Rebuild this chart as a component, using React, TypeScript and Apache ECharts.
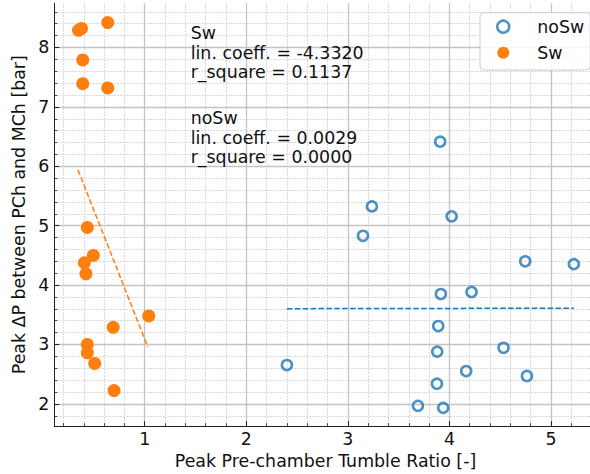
import React, { useEffect, useRef } from "react";
import * as echarts from "echarts";

const noSwX = [3.909, 3.237, 4.022, 3.149, 4.746, 5.225, 3.916, 4.218, 3.89, 3.88, 4.533, 2.4, 4.165, 4.763, 3.877, 3.69, 3.939];
const noSwY = [6.415, 5.325, 5.157, 4.83, 4.4, 4.353, 3.85, 3.884, 3.31, 2.88, 2.945, 2.654, 2.553, 2.47, 2.34, 1.967, 1.933];
const swX = [0.348, 0.378, 0.636, 0.39, 0.39, 0.636, 0.435, 0.494, 0.406, 0.422, 1.04, 0.69, 0.435, 0.435, 0.508, 0.698];
const swY = [8.29, 8.32, 8.42, 7.79, 7.39, 7.32, 4.97, 4.5, 4.375, 4.19, 3.48, 3.29, 3.0, 2.86, 2.68, 2.225];
const swFitX = [0.343, 1.03];
const swFitY = [5.94, 2.96];
const noSwFitX = [2.4, 5.225];
const noSwFitY = [3.603, 3.611];

const xMajor = [1, 2, 3, 4, 5];
const yMajor = [2, 3, 4, 5, 6, 7, 8];
const xMinor = [0.2, 0.4, 0.6, 0.8, 1.2, 1.4, 1.6, 1.8, 2.2, 2.4, 2.6, 2.8, 3.2, 3.4, 3.6, 3.8, 4.2, 4.4, 4.6, 4.8, 5.2, 5.4];
const yMinor = [1.8, 2.2, 2.4, 2.6, 2.8, 3.2, 3.4, 3.6, 3.8, 4.2, 4.4, 4.6, 4.8, 5.2, 5.4, 5.6, 5.8, 6.2, 6.4, 6.6, 6.8, 7.2, 7.4, 7.6, 7.8, 8.2, 8.4, 8.6];

const textSw = ["Sw", "lin. coeff. = -4.3320", "r_square = 0.1137"];
const textNoSw = ["noSw", "lin. coeff. = 0.0029", "r_square = 0.0000"];

const X_MIN = 0.11;
const X_MAX = 5.45;
const Y_MIN = 1.626;
const Y_MAX = 8.744;

const FONT = "DejaVu Sans";
const FS = 17.4;
const BLUE = "#1f77b4";
const ORANGE = "#ff7f0e";

const zip = (xs: number[], ys: number[]) => xs.map((x, i) => [x, ys[i]]);

export default function App() {
  const ref = useRef<HTMLDivElement>(null);
  useEffect(() => {
    if (!ref.current) return;
    const chart = echarts.init(ref.current, undefined, { renderer: "svg" });
    const majorAxisBase = {
      type: "value",
      axisLine: { show: true, lineStyle: { color: "#222", width: 1 } },
      axisTick: { show: true, inside: true, length: 5, lineStyle: { color: "#222", width: 1 } },
      axisLabel: { show: true, color: "#111", fontFamily: FONT, fontSize: FS },
      splitLine: { show: true, lineStyle: { color: "#c4c4c4", width: 1.3, type: "solid" } },
    };
    const minorAxisBase = {
      type: "value",
      axisLine: { show: false },
      axisTick: { show: true, inside: true, length: 3, lineStyle: { color: "#222", width: 0.8 } },
      axisLabel: { show: false },
      splitLine: { show: true, lineStyle: { color: "#c8c8c8", width: 0.9, type: [1.5, 1.5] } },
    };
    const option: any = {
      animation: false,
      backgroundColor: "#fff",
      grid: { left: 54.3, top: 3.3, right: 13.3, bottom: 46, containLabel: false },
      legend: {
        data: [
          { name: "noSw", itemStyle: { borderWidth: 2.5, borderColor: BLUE, color: "transparent" } },
          { name: "Sw" },
        ],
        orient: "vertical",
        left: 480,
        top: 12.7,
        icon: "circle",
        itemWidth: 12,
        itemHeight: 12,
        itemGap: 8.6,
        padding: [5.3, 6, 8.6, 16],
        backgroundColor: "rgba(255,255,255,0.85)",
        borderColor: "#cccccc",
        borderWidth: 1,
        borderRadius: 4,
        textStyle: { fontFamily: FONT, fontSize: FS, color: "#111", lineHeight: FS, padding: [0, 0, 0, 23] },
      },
      xAxis: [
        {
          ...majorAxisBase,
          min: X_MIN,
          max: X_MAX,
          position: "bottom",
          name: "Peak Pre-chamber Tumble Ratio [-]",
          nameLocation: "middle",
          nameGap: 17.2,
          nameTextStyle: { fontFamily: FONT, fontSize: FS, color: "#111" },
          axisTick: { ...majorAxisBase.axisTick, customValues: xMajor },
          axisLabel: { ...majorAxisBase.axisLabel, customValues: xMajor, margin: 4 },
        },
        {
          ...minorAxisBase,
          min: X_MIN,
          max: X_MAX,
          position: "bottom",
          axisTick: { ...minorAxisBase.axisTick, customValues: xMinor },
        },
      ],
      yAxis: [
        {
          ...majorAxisBase,
          min: Y_MIN,
          max: Y_MAX,
          position: "left",
          name: "Peak ΔP between PCh and MCh [bar]",
          nameLocation: "middle",
          nameGap: 21,
          nameTextStyle: { fontFamily: FONT, fontSize: FS, color: "#111" },
          axisTick: { ...majorAxisBase.axisTick, customValues: yMajor },
          axisLabel: { ...majorAxisBase.axisLabel, customValues: yMajor, margin: 5 },
        },
        {
          ...minorAxisBase,
          min: Y_MIN,
          max: Y_MAX,
          position: "left",
          axisTick: { ...minorAxisBase.axisTick, customValues: yMinor },
        },
      ],
      series: [
        {
          name: "noSw",
          type: "scatter",
          data: zip(noSwX, noSwY),
          symbol: "circle",
          symbolSize: 10,
          itemStyle: { color: "transparent", borderColor: BLUE, borderWidth: 2.6 },
          z: 3,
        },
        {
          name: "Sw",
          type: "scatter",
          data: zip(swX, swY),
          symbol: "circle",
          symbolSize: 13,
          itemStyle: { color: ORANGE, opacity: 1 },
          z: 4,
        },
        {
          name: "Sw fit",
          type: "line",
          data: zip(swFitX, swFitY),
          showSymbol: false,
          symbol: "none",
          lineStyle: { color: ORANGE, width: 1.5, type: [5.5, 2.4] },
          z: 5,
        },
        {
          name: "noSw fit",
          type: "line",
          data: zip(noSwFitX, noSwFitY),
          showSymbol: false,
          symbol: "none",
          lineStyle: { color: BLUE, width: 1.5, type: [5.5, 2.4] },
          z: 5,
        },
      ],
      graphic: [
        {
          type: "text",
          left: 190.7,
          top: 23.5,
          z: 10,
          style: { text: textSw.join("\n"), fontFamily: FONT, fontSize: FS, lineHeight: 19.5, fill: "#111" },
        },
        {
          type: "text",
          left: 190.7,
          top: 108.3,
          z: 10,
          style: { text: textNoSw.join("\n"), fontFamily: FONT, fontSize: FS, lineHeight: 19.5, fill: "#111" },
        },
      ],
    };
    chart.setOption(option);
    return () => chart.dispose();
  }, []);
  return (
    <div style={{ position: "fixed", left: 0, top: 0, width: 590, height: 474, overflow: "hidden", background: "#fff" }}>
      <div ref={ref} style={{ width: 610, height: 474 }} />
    </div>
  );
}
